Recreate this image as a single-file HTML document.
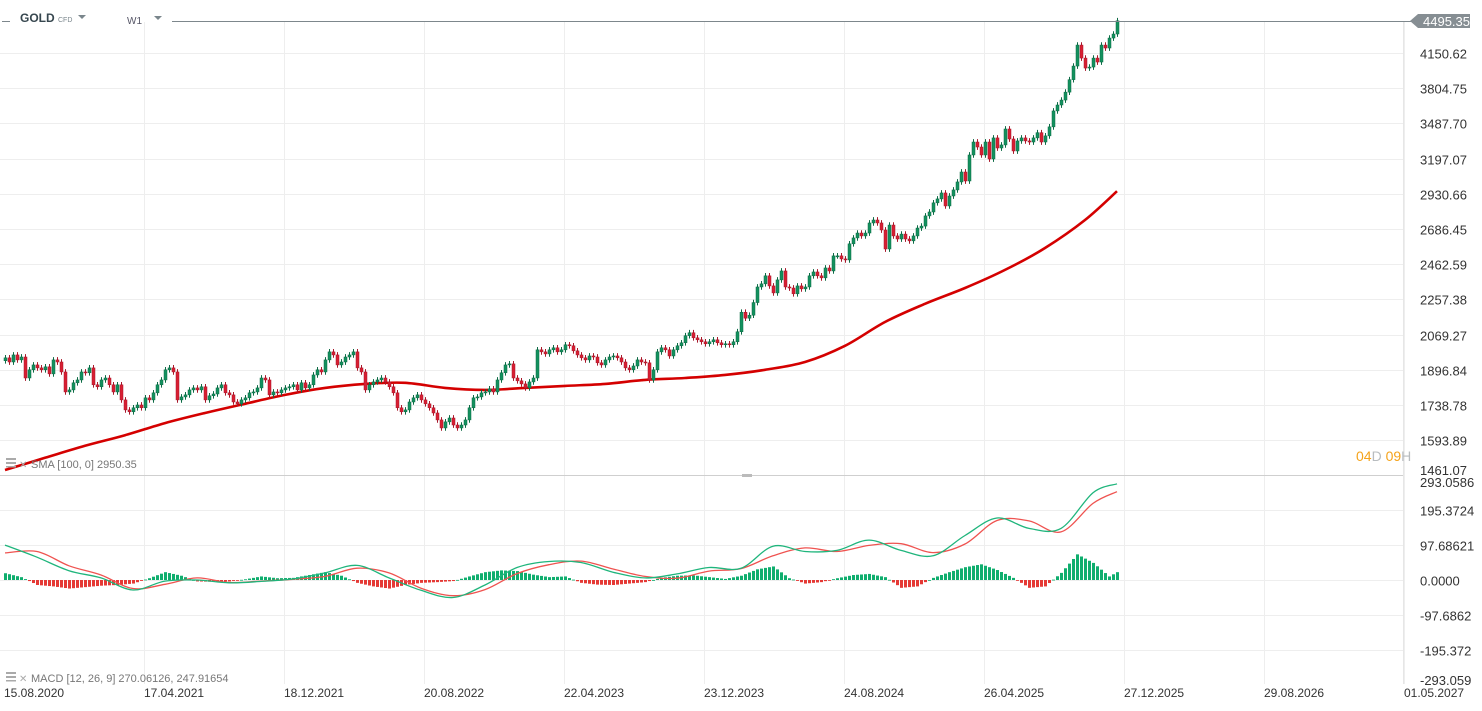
<!DOCTYPE html>
<html><head><meta charset="utf-8"><style>
html,body{margin:0;padding:0;background:#fff;}
body{width:1482px;height:711px;overflow:hidden;font-family:"Liberation Sans",sans-serif;position:relative;}
svg{position:absolute;left:0;top:0;}
.ax{font-size:13px;fill:#333;}
.dt{font-size:12px;fill:#333;}
</style></head><body>
<svg id="chart" width="1482" height="711">
<g id="grid"></g>
<line x1="1403.5" y1="22" x2="1403.5" y2="684" stroke="#e6e6e6"/>
<line x1="0" y1="475.5" x2="1403" y2="475.5" stroke="#cfcfcf"/>
<rect x="742" y="474" width="10" height="3" fill="#bbb"/>
<g id="sma"></g>
<g id="candles"></g>
<g id="macd"></g>
<g id="axes"></g>
<line x1="2" y1="21.5" x2="10" y2="21.5" stroke="#7d878c"/>
<line x1="172" y1="21.5" x2="1412" y2="21.5" stroke="#7d878c"/>
<text x="20" y="22" font-size="12" font-weight="bold" fill="#37474f">GOLD</text>
<text x="58" y="22" font-size="7" fill="#7a868c">CFD</text>
<path d="M78 15 L86 15 L82 19 Z" fill="#7a868c"/>
<text x="127" y="24" font-size="10" fill="#556">W1</text>
<path d="M154 16 L162 16 L158 20 Z" fill="#7a868c"/>
<path d="M1410 21 L1418 14 L1470 14 L1470 28 L1418 28 Z" fill="#868e93"/>
<text x="1423" y="26" font-size="13" fill="#fff">4495.35</text>
<text x="1356" y="461" font-size="14"><tspan fill="#f5a31b">04</tspan><tspan fill="#b8bcbf">D </tspan><tspan fill="#f5a31b">09</tspan><tspan fill="#b8bcbf">H</tspan></text>
<g>
<rect x="6" y="458" width="10" height="2" fill="#aaa"/><rect x="6" y="462" width="10" height="2" fill="#aaa"/><rect x="6" y="466" width="10" height="1.5" fill="#aaa"/>
<text x="19" y="468" font-size="10" fill="#aaa">✕</text>
<text x="31" y="468" font-size="11" fill="#777">SMA [100, 0] 2950.35</text></g>
<g>
<rect x="6" y="672" width="10" height="2" fill="#aaa"/><rect x="6" y="676" width="10" height="2" fill="#aaa"/><rect x="6" y="680" width="10" height="1.5" fill="#aaa"/>
<text x="19" y="682" font-size="10" fill="#aaa">✕</text>
<text x="31" y="682" font-size="11" fill="#777">MACD [12, 26, 9] 270.06126, 247.91654</text></g>
</svg>
<script>
const closes=[1954,1934,1968,1944,1958,1859,1897,1920,1906,1897,
1911,1878,1944,1934,1887,1796,1805,1837,1850,1887,
1883,1906,1828,1819,1850,1859,1828,1796,1828,1761,
1718,1710,1727,1739,1727,1770,1761,1792,1828,1850,
1897,1906,1887,1761,1774,1783,1805,1814,1805,1819,
1761,1779,1787,1814,1828,1792,1783,1752,1744,1761,
1770,1792,1796,1814,1859,1850,1783,1796,1792,1805,
1814,1819,1828,1805,1837,1814,1828,1873,1897,1887,
1944,1983,1968,1920,1934,1958,1968,1983,1906,1887,
1805,1828,1841,1850,1859,1841,1819,1792,1727,1710,
1718,1752,1770,1783,1761,1744,1727,1705,1676,1643,
1668,1684,1655,1643,1655,1676,1727,1770,1774,1792,
1796,1810,1796,1850,1883,1920,1925,1859,1846,1832,
1814,1841,1859,1993,1983,1973,1993,2003,1983,1993,
2018,2013,1988,1968,1954,1944,1963,1958,1930,1920,
1944,1958,1963,1954,1934,1906,1897,1915,1944,1934,
1930,1850,1897,1983,2003,1993,1963,1993,2013,2028,
2064,2079,2053,2043,2033,2023,2033,2043,2028,2018,
2023,2018,2033,2084,2187,2155,2171,2240,2328,2346,
2393,2334,2294,2369,2422,2328,2322,2289,2334,2317,
2328,2393,2416,2393,2381,2440,2422,2514,2514,2495,
2489,2590,2628,2660,2641,2660,2727,2747,2727,2680,
2557,2713,2641,2621,2653,2621,2609,2641,2693,2706,
2775,2802,2866,2894,2937,2844,2915,2959,3018,3093,
3025,3226,3331,3290,3226,3331,3194,3365,3282,3307,
3440,3356,3258,3340,3365,3340,3331,3365,3409,3331,
3382,3458,3597,3650,3695,3768,3886,4019,4233,4099,
3999,4009,4099,4059,4233,4202,4307,4350,4495];
const firstOpen=1940;
const smaEvery10=[1481,1526,1572,1614,1663,1705,1744,1783,1814,1832,1837,1814,1805,1814,1823,1832,1850,1859,1873,1897,1934,2013,2135,2233,2322,2428,2563,2747,2950];
const macdEvery8=[98,64,26,6,-28,-3,0,-8,-4,3,20,41,6,-29,-49,-14,35,52,49,22,6,17,35,33,95,80,83,112,83,68,125,174,145,145,245,270];
const signalEvery8=[76,80,40,14,-24,-12,6,-7,-3,2,10,33,20,-23,-44,-27,18,43,53,31,10,5,25,32,68,90,80,97,102,77,101,167,166,135,215,248];
const histEvery4=[19,8,-14,-18,-24,-20,-16,-14,-10,5,22,12,-4,-5,-4,2,10,5,6,14,22,12,-8,-18,-24,-14,-8,-6,-3,10,22,27,25,15,8,10,-8,-13,-14,-10,-6,6,12,13,8,3,12,30,38,5,-10,-6,5,14,17,8,-22,-18,6,22,36,44,28,6,-22,-18,20,72,48,10,22];
const priceTicks=[4150.62,3804.75,3487.70,3197.07,2930.66,2686.45,2462.59,2257.38,2069.27,1896.84,1738.78,1593.89,1461.07];
const macdTicks=[293.0586,195.3724,97.68621,0,-97.6862,-195.372,-293.059];
const dateLabels=["15.08.2020","17.04.2021","18.12.2021","20.08.2022","22.04.2023","23.12.2023","24.08.2024","26.04.2025","27.12.2025","29.08.2026","01.05.2027"];
const weeksPerDateLabel=35;

const NS="http://www.w3.org/2000/svg";
function mk(t,a,p){const e=document.createElementNS(NS,t);for(const k in a)e.setAttribute(k,a[k]);p.appendChild(e);return e;}
const xOf=i=>5+4*i;
const yP=p=>53+404.6*(Math.log(4150.62)-Math.log(p));
const yM=v=>580-v*0.3562;
const n=closes.length;
const grid=document.getElementById('grid'),axes=document.getElementById('axes');

priceTicks.forEach(t=>{const y=Math.round(yP(t))+0.5;
 if(y<474){const l=mk('line',{x1:0,x2:1403,y1:y,y2:y,stroke:'#eeeeee'},grid);
 
 }
 const tx=mk('text',{x:1420,y:Math.min(y,470)+5,class:'ax'},axes);tx.textContent=t.toFixed(2);
 
 });
macdTicks.forEach(t=>{const y=Math.round(yM(t))+0.5;
 if(y>477&&y<684){const l=mk('line',{x1:0,x2:1403,y1:y,y2:y,stroke:'#eeeeee'},grid);
 
 }
 const ly=Math.max(482,Math.min(y,680));
 const tx=mk('text',{x:1420,y:ly+5,class:'ax'},axes);tx.textContent=(t===0?'0.0000':String(t));
 
 });
dateLabels.forEach((d,k)=>{const x=xOf(k*weeksPerDateLabel);
 if(k>0){const l=mk('line',{x1:x-0.5,x2:x-0.5,y1:22,y2:684,stroke:'#eeeeee'},grid);
 
 }
 const tx=mk('text',{x:x-1,y:697,class:'dt'},axes);tx.textContent=d;
 
 });

const cg=document.getElementById('candles');
for(let i=0;i<n;i++){
 const o=i?closes[i-1]:firstOpen,c=closes[i];
 const up=c>=o,col=up?'#13915e':'#d81f32',bd=up?'#0d6b45':'#a8172a';
 const hi=Math.max(o,c)*1.007,lo=Math.min(o,c)*0.993;
 const x=xOf(i);
 const w=mk('line',{x1:x+0.5,x2:x+0.5,y1:yP(hi),y2:yP(lo),stroke:bd,'stroke-width':1},cg);
 
 
 const yt=yP(Math.max(o,c)),yb=yP(Math.min(o,c));
 const r=mk('rect',{x:x-1,y:yt,width:3,height:Math.max(1,yb-yt),fill:col,stroke:bd,'stroke-width':0.5},cg);
 
 
}
function smooth(arr,step,yf){
 const P=arr.map((v,k)=>[xOf(Math.min(k*step,n-1)),yf(v)]);
 let d='M'+P[0][0]+','+P[0][1].toFixed(1);
 for(let k=0;k<P.length-1;k++){const p0=P[Math.max(0,k-1)],p1=P[k],p2=P[k+1],p3=P[Math.min(P.length-1,k+2)];
  const c1=[p1[0]+(p2[0]-p0[0])/6,p1[1]+(p2[1]-p0[1])/6],c2=[p2[0]-(p3[0]-p1[0])/6,p2[1]-(p3[1]-p1[1])/6];
  d+=' C'+c1[0].toFixed(1)+','+c1[1].toFixed(1)+' '+c2[0].toFixed(1)+','+c2[1].toFixed(1)+' '+p2[0]+','+p2[1].toFixed(1);}
 return d;}
const sm=mk('path',{d:smooth(smaEvery10,10,yP),fill:'none',stroke:'#d40000','stroke-width':2.6},document.getElementById('sma'));



const mg=document.getElementById('macd');
function interp(arr,step,i){const k=Math.floor(i/step);if(k>=arr.length-1)return arr[arr.length-1];
 const i0=k*step,i1=Math.min((k+1)*step,n-1);const t=i1>i0?(i-i0)/(i1-i0):0;return arr[k]+(arr[k+1]-arr[k])*t;}
for(let i=0;i<n;i++){const v=interp(histEvery4,4,i);const y0=yM(0),y1=yM(v);
 const r=mk('rect',{x:xOf(i)-1,y:Math.min(y0,y1),width:3,height:Math.max(0.8,Math.abs(y1-y0)),fill:v>=0?'#0fae6e':'#e53935'},mg);
 
 }
const sl=mk('path',{d:smooth(signalEvery8,8,yM),fill:'none',stroke:'#ef5350','stroke-width':1.3},mg);


const ml=mk('path',{d:smooth(macdEvery8,8,yM),fill:'none',stroke:'#1fb57c','stroke-width':1.3},mg);


</script>
</body></html>
